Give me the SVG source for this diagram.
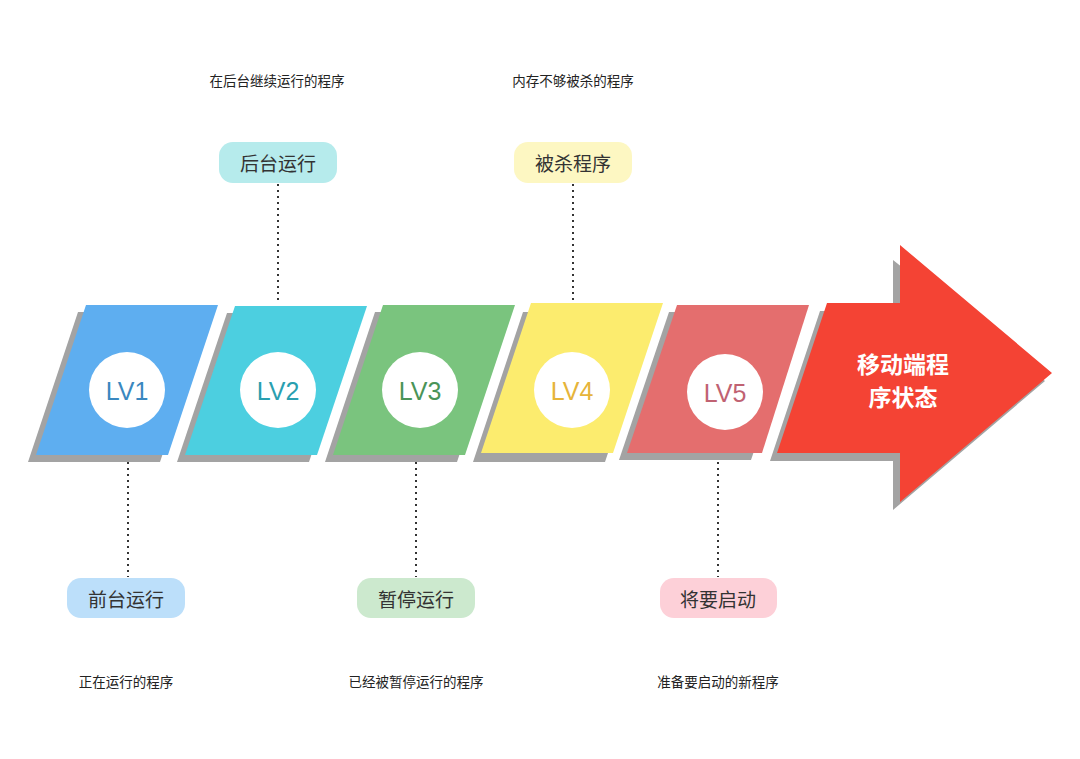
<svg xmlns="http://www.w3.org/2000/svg" width="1080" height="759" viewBox="0 0 1080 759">
<style>
.sh{fill:#a3a3a3}
.circ{fill:#ffffff}
.lv{font-family:"Liberation Sans","Noto Sans",sans-serif;font-size:25px;text-anchor:middle;dominant-baseline:central}
.pill{font-family:"Noto Sans CJK SC",sans-serif;font-size:19px;fill:#333333;text-anchor:middle;dominant-baseline:central}
.cap{font-family:"Noto Sans CJK SC",sans-serif;font-size:13.5px;fill:#222222;text-anchor:middle;dominant-baseline:central}
.dot{stroke:#333333;stroke-width:2;stroke-dasharray:2 4;fill:none}
.arr{font-family:"Noto Sans CJK SC",sans-serif;font-size:23px;font-weight:bold;fill:#ffffff;text-anchor:middle;dominant-baseline:central}
</style>
<rect width="1080" height="759" fill="#ffffff"/>
<g id="connectors">
<line class="dot" x1="278" y1="184" x2="278" y2="304"/>
<line class="dot" x1="573" y1="184" x2="573" y2="302"/>
<line class="dot" x1="128" y1="456" x2="128" y2="577"/>
<line class="dot" x1="416" y1="462" x2="416" y2="577"/>
<line class="dot" x1="718" y1="456" x2="718" y2="577"/>
</g>
<g id="lv1">
<polygon class="sh" points="78,312 210,312 160,462 28,462"/>
<polygon fill="#5eaef0" points="86,305 218,305 168,455 36,455"/>
<circle class="circ" cx="127" cy="390" r="38"/>
<text class="lv" x="127" y="391" fill="#3a88c0">LV1</text>
</g>
<g id="lv2">
<polygon class="sh" points="227,313 359,313 309,462 177,462"/>
<polygon fill="#4ccfe0" points="235,306 367,306 317,455 185,455"/>
<circle class="circ" cx="278" cy="390" r="38"/>
<text class="lv" x="278" y="391" fill="#2a9fb0">LV2</text>
</g>
<g id="lv3">
<polygon class="sh" points="375,312 507,312 457,462 325,462"/>
<polygon fill="#7ac47e" points="383,305 515,305 465,455 333,455"/>
<circle class="circ" cx="420" cy="390" r="38"/>
<text class="lv" x="420" y="391" fill="#4a9458">LV3</text>
</g>
<g id="lv4">
<polygon class="sh" points="523,312 655,312 605,462 473,462"/>
<polygon fill="#fcec6e" points="531,303 663,303 613,453 481,453"/>
<circle class="circ" cx="572" cy="390" r="38"/>
<text class="lv" x="572" y="391" fill="#e6b43a">LV4</text>
</g>
<g id="lv5">
<polygon class="sh" points="669,312 801,312 751,460 619,460"/>
<polygon fill="#e46e6e" points="677,305 809,305 762,453 627,453"/>
<circle class="circ" cx="725" cy="392" r="38"/>
<text class="lv" x="725" y="393" fill="#c06272">LV5</text>
</g>
<g id="arrow">
<polygon class="sh" points="820,311 893,311 893,260 1045,381 893,510 893,461 770,461"/>
<polygon fill="#f44334" points="827,303 900,303 900,245 1052,373 900,502 900,453 777,453"/>
<text class="arr" x="903" y="363">移动端程</text>
<text class="arr" x="903" y="396">序状态</text>
</g>
<g id="pill-bg">
<rect x="219" y="142" width="118" height="41" rx="14" fill="#b6ebec"/>
<text class="pill" x="278" y="162">后台运行</text>
</g>
<g id="pill-killed">
<rect x="514" y="142" width="118" height="41" rx="14" fill="#fdf7c2"/>
<text class="pill" x="573" y="162">被杀程序</text>
</g>
<g id="pill-fg">
<rect x="67" y="578" width="118" height="40" rx="14" fill="#bcdffa"/>
<text class="pill" x="126" y="598">前台运行</text>
</g>
<g id="pill-paused">
<rect x="357" y="578" width="118" height="40" rx="14" fill="#cce9ce"/>
<text class="pill" x="416" y="598">暂停运行</text>
</g>
<g id="pill-starting">
<rect x="660" y="578" width="117" height="40" rx="14" fill="#fdd0d8"/>
<text class="pill" x="718" y="598">将要启动</text>
</g>
<g id="captions">
<text class="cap" x="277" y="80">在后台继续运行的程序</text>
<text class="cap" x="573" y="80">内存不够被杀的程序</text>
<text class="cap" x="126" y="681">正在运行的程序</text>
<text class="cap" x="416" y="681">已经被暂停运行的程序</text>
<text class="cap" x="718" y="681">准备要启动的新程序</text>
</g>
</svg>
